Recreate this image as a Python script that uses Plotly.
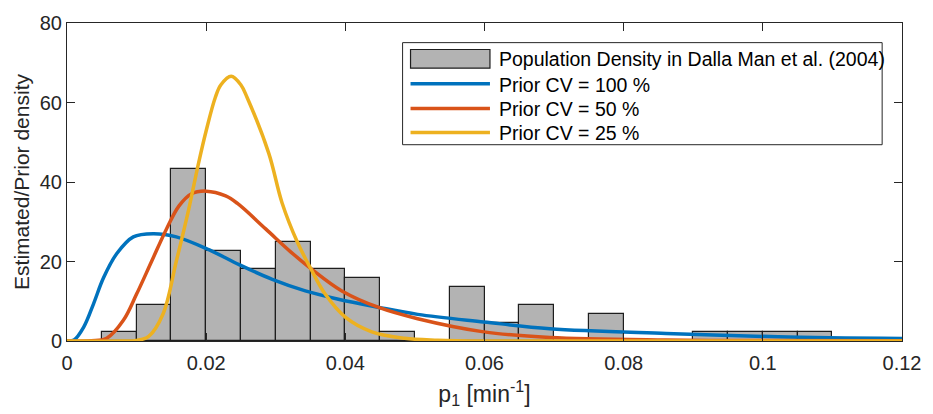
import plotly.graph_objects as go

# Histogram of p1 (bin width 0.005 min^-1), normalised to a density
bin_edges_left = [0.000, 0.005, 0.010, 0.015, 0.020, 0.025, 0.030, 0.035, 0.040,
                  0.045, 0.050, 0.055, 0.060, 0.065, 0.070, 0.075, 0.080, 0.085,
                  0.090, 0.095, 0.100, 0.105, 0.110, 0.115]
bin_density = [0.0, 2.27, 9.09, 43.18, 22.73, 18.18, 25.0, 18.18, 15.91,
               2.27, 0.0, 13.64, 4.55, 9.09, 0.0, 6.82, 0.0, 0.0,
               2.27, 2.27, 2.27, 2.27, 0.0, 0.0]
bin_width = 0.005

# Prior densities for three coefficients of variation
cv100_x = [0.0, 0.001, 0.0024, 0.0038, 0.00525, 0.00716, 0.00953, 0.01238, 0.01571,
           0.02046, 0.02474, 0.0295, 0.03425, 0.039, 0.0447, 0.0504, 0.0599,
           0.0694, 0.0861, 0.1022, 0.12]
cv100_y = [0.0, 0.25, 3.5, 9.3, 15.9, 22.0, 26.2, 27.0, 26.2,
           22.9, 19.2, 15.5, 12.6, 10.5, 8.5, 6.7, 4.8,
           3.1, 1.9, 1.06, 0.6]

cv50_x = [0.0, 0.0035, 0.0057, 0.0081, 0.0100, 0.01215, 0.0143, 0.0161, 0.01785,
          0.0200, 0.0228, 0.0245, 0.02855, 0.0321, 0.0350, 0.0395, 0.0447, 0.0504,
          0.0599, 0.0694, 0.086, 0.100, 0.12]
cv50_y = [0.0, 0.05, 0.67, 5.2, 11.8, 20.0, 28.2, 34.0, 37.0,
          37.7, 36.5, 34.6, 28.2, 22.5, 18.3, 12.6, 8.5, 5.6,
          2.3, 0.9, 0.25, 0.1, 0.05]

cv25_x = [0.0, 0.008, 0.010, 0.0117, 0.0138, 0.0157, 0.0175, 0.0189, 0.0200,
          0.0213, 0.0221, 0.0236, 0.0250, 0.0259, 0.0290, 0.0309, 0.0331,
          0.0350, 0.0371, 0.0400, 0.0438, 0.0485, 0.0533, 0.060, 0.12]
cv25_y = [0.0, 0.0, 0.15, 1.1, 6.8, 20.0, 33.2, 44.7, 52.9,
          61.2, 64.4, 66.6, 64.4, 61.2, 47.2, 34.8, 24.9,
          18.3, 11.8, 6.0, 2.3, 0.67, 0.2, 0.0, 0.0]

x_ticks = [0, 0.02, 0.04, 0.06, 0.08, 0.1, 0.12]
x_tick_text = ["0", "0.02", "0.04", "0.06", "0.08", "0.1", "0.12"]
y_ticks = [0, 20, 40, 60, 80]

FONT = "Liberation Sans, Arial, sans-serif"
INK = "rgb(38,38,38)"
BAR_FILL = "rgb(179,179,179)"
BAR_EDGE = "rgb(30,30,30)"

series = [
    (cv100_x, cv100_y, "#0072BD", "Prior CV = 100 %"),
    (cv50_x, cv50_y, "#D95319", "Prior CV = 50 %"),
    (cv25_x, cv25_y, "#EDB120", "Prior CV = 25 %"),
]
hist_label = "Population Density in Dalla Man et al. (2004)"

bin_centres = [e + bin_width / 2 for e in bin_edges_left]

fig = go.Figure()
fig.add_trace(go.Bar(
    x=bin_centres, y=bin_density, width=bin_width,
    marker=dict(color=BAR_FILL, line=dict(color=BAR_EDGE, width=1.2)),
    name=hist_label, showlegend=False,
))
for xs, ys, colour, label in series:
    fig.add_trace(go.Scatter(
        x=xs, y=ys, mode="lines", name=label, showlegend=False,
        line=dict(color=colour, width=3.5, shape="spline", smoothing=1.0),
    ))

axis_common = dict(
    showgrid=False, zeroline=False, showline=True, linecolor=INK, linewidth=1,
    mirror="ticks", ticks="inside", ticklen=8, tickwidth=1, tickcolor=INK,
    tickfont=dict(family=FONT, size=20, color=INK),
)
fig.update_xaxes(range=[0, 0.12], tickvals=x_ticks, ticktext=x_tick_text,
                 ticklabelstandoff=4,
                 title=dict(text="p<sub>1</sub> [min<sup>-1</sup>]",
                            font=dict(family=FONT, size=23, color=INK), standoff=12),
                 **axis_common)
fig.update_yaxes(range=[0, 80], tickvals=y_ticks,
                 title=dict(text="Estimated/Prior density",
                            font=dict(family=FONT, size=21, color=INK), standoff=4),
                 **axis_common)

# Legend box drawn in plot-area (paper) coordinates
PLOT_L, PLOT_R, PLOT_T, PLOT_B = 67, 908, 17, 341


def px(xp):
    return (xp - PLOT_L) / (PLOT_R - PLOT_L)


def py(yp):
    return (PLOT_B - yp) / (PLOT_B - PLOT_T)


shapes = [
    dict(type="rect", xref="paper", yref="paper",
         x0=px(405), x1=px(888), y0=py(141), y1=py(37),
         fillcolor="white", line=dict(color=INK, width=1)),
    dict(type="rect", xref="paper", yref="paper",
         x0=px(413), x1=px(493), y0=py(63), y1=py(44),
         fillcolor=BAR_FILL, line=dict(color=BAR_EDGE, width=1.2)),
]
annotations = [
    dict(text=hist_label, xref="paper", yref="paper", x=px(500), y=py(54),
         xanchor="left", yanchor="middle", showarrow=False,
         font=dict(family=FONT, size=19.5, color="black")),
]
for (_, _, colour, label), row_y in zip(series, [79, 104, 128.5]):
    shapes.append(dict(type="line", xref="paper", yref="paper",
                       x0=px(413), x1=px(493), y0=py(row_y), y1=py(row_y),
                       line=dict(color=colour, width=3.5)))
    annotations.append(dict(text=label, xref="paper", yref="paper",
                            x=px(500), y=py(row_y + 1), xanchor="left",
                            yanchor="middle", showarrow=False,
                            font=dict(family=FONT, size=19.5, color="black")))

fig.update_layout(
    width=933, height=414,
    margin=dict(l=PLOT_L, r=933 - PLOT_R, t=PLOT_T, b=414 - PLOT_B),
    plot_bgcolor="white", paper_bgcolor="white",
    bargap=0,
    font=dict(family=FONT, color=INK),
    shapes=shapes, annotations=annotations,
    showlegend=False,
)

fig.write_html("out.html")
